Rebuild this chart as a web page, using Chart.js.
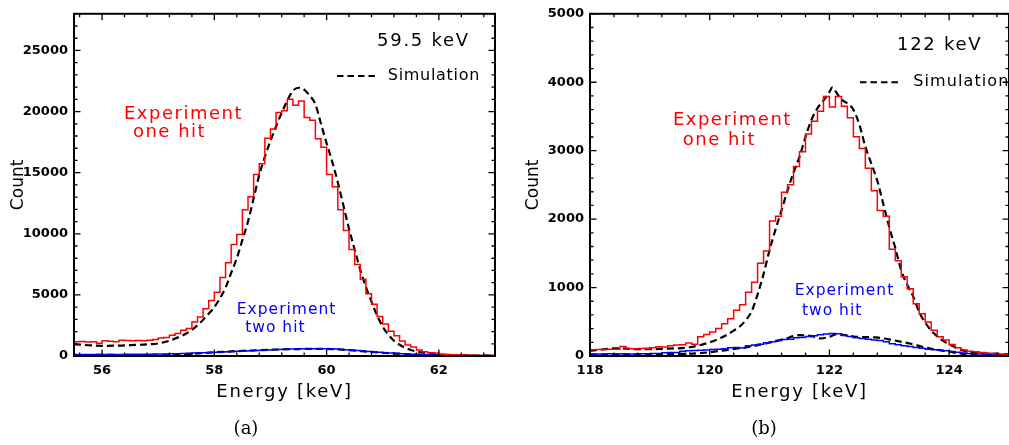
<!DOCTYPE html>
<html><head><meta charset="utf-8">
<script src="https://cdn.jsdelivr.net/npm/chart.js@4.4.1/dist/chart.umd.min.js"></script>
<style>
html,body{margin:0;padding:0;background:#fff;overflow:hidden;width:1009px;height:445px;position:relative}
.wrap{position:absolute;top:0;height:445px}
#wa{left:0;width:505px}
#wb{left:510px;width:505px}
.cap{position:absolute;top:418px;width:100px;text-align:center;font-family:"DejaVu Serif",serif;font-size:18px;line-height:20px;color:#000}
</style></head><body>
<div class="wrap" id="wa"><canvas id="ca"></canvas></div>
<div class="wrap" id="wb"><canvas id="cb"></canvas></div>
<div class="cap" style="left:196px">(a)</div>
<div class="cap" style="left:714px">(b)</div>
<script>
// ---------- data : panel (a) 59.5 keV ----------
const binWidth = 0.1;
const binStartA = 55.5;
const oneHitA = [1160,1180,1150,1160,1050,1250,1200,1170,1290,1270,
  1250,1260,1240,1280,1350,1480,1520,1700,1840,2100,
  2240,2780,3190,3860,4540,5210,6430,7640,9130,9940,
  11960,13040,14850,15740,17820,18580,19930,20060,21000,20520,
  20870,19520,19300,17770,17090,14850,13850,11960,10260,8720,
  7480,6290,5100,4240,3240,2620,2030,1650,1220,890,
  730,490,350,270,250,150,120,100,80,70,
  60,50,50,40,40];
const twoHitA = [130,132,128,130,133,130,134,131,129,133,
  135,138,142,148,155,162,170,180,192,205,
  220,238,256,275,295,315,335,355,375,395,
  415,435,455,475,495,515,535,555,570,580,
  588,594,596,596,592,585,570,545,515,480,
  440,400,365,330,300,270,240,215,190,170,
  150,130,112,96,82,70,58,48,40,34,
  28,24,20,18,16];
const simEnergyA = [55.5,55.8,56.0,56.3,56.5,56.8,57.0,57.2,57.3,57.5,57.7,57.9,58.0,58.2,58.3,58.4,58.5,58.6,58.7,58.8,58.9,59.0,59.1,59.2,59.3,59.4,59.5,59.6,59.7,59.8,59.9,60.0,60.1,60.2,60.3,60.4,60.5,60.6,60.7,60.8,60.9,61.0,61.1,61.2,61.3,61.4,61.5,61.7,62.0,62.5,63.0];
const simOneHitA = [970,870,835,850,890,950,1030,1250,1430,1840,2510,3460,4000,5600,6800,8000,9500,11000,12900,14800,16300,17600,18800,19900,20900,21700,21950,21800,21300,20600,19000,17400,15900,14200,12300,10400,8700,7050,5650,4450,3320,2400,1750,1250,920,680,490,290,130,50,20];
const simTwoEnergyA = [55.5,56.0,56.5,57.0,57.5,58.0,58.5,59.0,59.5,59.8,60.1,60.4,60.8,61.2,61.6,62.0,62.5,63.0];
const simTwoHitA = [30,30,40,70,150,300,420,510,570,590,570,480,330,200,110,60,25,10];

// ---------- data : panel (b) 122 keV ----------
const binStartB = 118.0;
const oneHitB = [90,95,95,100,100,140,110,105,110,115,
  120,135,130,150,160,165,190,170,280,314,
  352,401,473,546,667,749,932,1077,1357,1536,
  1971,2043,2391,2502,2768,2985,3245,3430,3575,3790,
  3640,3790,3650,3480,3202,3033,2743,2415,2125,2043,
  1560,1391,1159,981,763,618,497,377,280,232,
  169,121,87,70,63,50,40,35,30,25];
const twoHitB = [30,28,30,32,30,33,31,30,32,34,
  35,38,48,50,52,70,78,82,85,88,
  95,100,105,120,125,118,150,160,170,195,
  210,225,240,245,265,270,285,295,310,320,
  328,325,300,285,265,255,245,235,225,210,
  180,165,150,140,125,112,100,92,85,75,
  65,55,45,38,32,28,25,22,20,18];
const simEnergyB = [118.0,118.2,118.4,118.6,118.8,119.0,119.2,119.4,119.6,119.8,120.0,120.2,120.4,120.5,120.6,120.7,120.8,120.9,121.0,121.1,121.2,121.3,121.4,121.5,121.6,121.7,121.8,121.9,122.0,122.05,122.1,122.2,122.3,122.4,122.5,122.6,122.7,122.8,122.9,123.0,123.1,123.2,123.3,123.4,123.5,123.6,123.7,123.8,123.9,124.0,124.2,124.4,124.6,125.0];
const simOneHitB = [77,95,111,108,100,100,105,110,120,150,200,270,370,430,520,650,900,1200,1550,1850,2130,2420,2680,2910,3200,3450,3620,3730,3860,3927,3870,3750,3690,3600,3380,3060,2810,2560,2220,1880,1580,1250,1040,870,640,490,370,290,220,170,90,55,40,25];
const simTwoEnergyB = [118.0,118.5,119.0,119.5,119.8,120.0,120.3,120.67,120.94,121.22,121.5,121.7,121.85,122.0,122.11,122.3,122.44,122.78,123.06,123.33,123.67,124.0,124.28,124.6,125.0];
const simTwoHitB = [20,25,25,30,40,55,90,135,184,242,304,290,256,280,314,300,280,271,232,184,111,63,25,15,10];

// ---------- tick labels ----------
const xTicksA = [56, 58, 60, 62];
const yTicksA = [0, 5000, 10000, 15000, 20000, 25000];
const xTicksB = [118, 120, 122, 124];
const yTicksB = [0, 1000, 2000, 3000, 4000, 5000];
const xMajorStep = 2, xMinorStep = 0.4;
const yMajorStepA = 5000, yMinorStepA = 1000;
const yMajorStepB = 1000, yMinorStepB = 200;

// ---------- annotation texts (anchored in data units) ----------
const notesA = [
  {text:'59.5 keV', x:60.90, y:25350, color:'#000', size:18, ls:1.7},
  {text:'Simulation', x:61.09, y:22920, color:'#000', size:16, ls:0.7, base:'middle'},
  {text:'Experiment', x:56.39, y:19360, color:'#ff0000', size:18, ls:1.5},
  {text:'one hit', x:56.55, y:17900, color:'#ff0000', size:18, ls:1.5},
  {text:'Experiment', x:58.40, y:3440, color:'#0000ff', size:15.5, ls:1},
  {text:'two hit', x:58.55, y:1985, color:'#0000ff', size:15.5, ls:1}
];
const legendDashA = {x1:60.185, x2:60.915, y:22920};
const notesB = [
  {text:'122 keV', x:123.13, y:4477, color:'#000', size:18, ls:1.7},
  {text:'Simulation', x:123.40, y:4000, color:'#000', size:16, ls:1.1, base:'middle'},
  {text:'Experiment', x:119.385, y:3376, color:'#ff0000', size:18, ls:1.5},
  {text:'one hit', x:119.55, y:3086, color:'#ff0000', size:18, ls:1.5},
  {text:'Experiment', x:121.42, y:884, color:'#0000ff', size:15.5, ls:1},
  {text:'two hit', x:121.54, y:594, color:'#0000ff', size:15.5, ls:1}
];
const legendDashB = {x1:122.51, x2:123.145, y:4000};

function histPoints(start, values){
  const pts = values.map((v,i)=>({x:+(start+i*binWidth).toFixed(3), y:v}));
  pts.push({x:+(start+values.length*binWidth).toFixed(3), y:values[values.length-1]});
  return pts;
}
function curvePoints(es, vs){ return es.map((e,i)=>({x:e,y:vs[i]})); }

const boxPlugin = {
  id:'box',
  afterDatasetsDraw(chart, args, o){
    const {ctx, chartArea:a, scales:{x,y}} = chart;
    ctx.save();
    ctx.strokeStyle = '#000';
    ctx.lineWidth = 1.3;
    const MAJ = 6.5, MIN = 3.5;
    const eps = 1e-6;
    function each(min,max,step,fn){
      for(let k=Math.ceil(min/step-eps); k*step<=max+eps; k++) fn(k*step);
    }
    function isMajor(v,step){ const r=v/step; return Math.abs(r-Math.round(r))<1e-6; }
    ctx.beginPath();
    each(x.min,x.max,o.xMinor,v=>{
      const px=x.getPixelForValue(v); const L=isMajor(v,o.xMajor)?MAJ:MIN;
      ctx.moveTo(px,a.bottom); ctx.lineTo(px,a.bottom-L);
      ctx.moveTo(px,a.top); ctx.lineTo(px,a.top+L);
    });
    each(y.min,y.max,o.yMinor,v=>{
      const py=y.getPixelForValue(v); const L=isMajor(v,o.yMajor)?MAJ:MIN;
      ctx.moveTo(a.left,py); ctx.lineTo(a.left+L,py);
      ctx.moveTo(a.right,py); ctx.lineTo(a.right-L,py);
    });
    ctx.stroke();
    ctx.lineWidth = 2;
    ctx.strokeRect(a.left,a.top,a.right-a.left,a.bottom-a.top);
    (o.notes||[]).forEach(n=>{
      ctx.font = n.size+'px "DejaVu Sans"';
      ctx.fillStyle = n.color;
      ctx.letterSpacing = n.ls+'px';
      ctx.textAlign = 'left';
      ctx.textBaseline = n.base||'alphabetic';
      ctx.fillText(n.text, x.getPixelForValue(n.x), y.getPixelForValue(n.y));
    });
    ctx.letterSpacing = '0px';
    if(o.dash){
      ctx.setLineDash([6.5,4]);
      ctx.lineWidth = 2;
      ctx.beginPath();
      const py = y.getPixelForValue(o.dash.y);
      ctx.moveTo(x.getPixelForValue(o.dash.x1), py);
      ctx.lineTo(x.getPixelForValue(o.dash.x2), py);
      ctx.stroke();
    }
    ctx.restore();
  }
};
const titleSpacing = {
  id:'titleSpacing',
  beforeDraw(chart){
    const s = chart.scales.x;
    if(s && !s.__ls){
      const orig = s.drawTitle;
      s.drawTitle = function(){ const c=this.ctx; c.save(); c.letterSpacing='1.7px'; orig.apply(this, arguments); c.restore(); };
      s.__ls = true;
    }
  }
};

function makeChart(id, c){
  const tickFont = {family:'DejaVu Sans', size:13, weight:'bold'};
  return new Chart(document.getElementById(id), {
    type:'line',
    data:{datasets:[
      {data:histPoints(c.start, c.one), borderColor:'#ff0000', borderWidth:1.5, stepped:true, pointRadius:0, fill:false},
      {data:histPoints(c.start, c.two), borderColor:'#0000ff', borderWidth:1.5, stepped:true, pointRadius:0, fill:false},
      {data:curvePoints(c.simTwoE, c.simTwo), borderColor:'#000', borderWidth:2.2, borderDash:[7,4], cubicInterpolationMode:'monotone', pointRadius:0, fill:false},
      {data:curvePoints(c.simE, c.simOne), borderColor:'#000', borderWidth:2.2, borderDash:[7,4], cubicInterpolationMode:'monotone', pointRadius:0, fill:false}
    ]},
    options:{
      responsive:true, maintainAspectRatio:false, animation:false, devicePixelRatio:1,
      layout:{padding:{left:0, top:11, right:c.padRight, bottom:0}},
      plugins:{legend:{display:false}, tooltip:{enabled:false},
        box:{xMajor:xMajorStep, xMinor:xMinorStep, yMajor:c.yStep, yMinor:c.yMinor, notes:c.notes, dash:c.dash}},
      scales:{
        x:{type:'linear', min:c.xmin, max:c.xmax,
          grid:{display:false, drawTicks:false}, border:{display:false},
          afterBuildTicks(s){ s.ticks = c.xTicks.map(v=>({value:v})); },
          ticks:{padding:7, color:'#000', font:tickFont, maxRotation:0, autoSkip:false, callback:v=>String(v)},
          title:{display:true, text:'Energy [keV]', color:'#000', font:{family:'DejaVu Sans', size:18}, padding:{top:0, bottom:42}},
          afterFit(s){ s.height = 89; }},
        y:{type:'linear', min:0, max:c.ymax,
          grid:{display:false, drawTicks:false}, border:{display:false},
          afterBuildTicks(s){ s.ticks = c.yTicks.map(v=>({value:v})); },
          ticks:{padding:6, color:'#000', font:tickFont, autoSkip:false, callback:v=>String(v)},
          title:{display:true, text:'Count', color:'#000', font:{family:'DejaVu Sans', size:17}, padding:{top:c.titlePad, bottom:0}},
          afterFit(s){ s.width = c.yw; }}
      }
    },
    plugins:[boxPlugin, titleSpacing]
  });
}

makeChart('ca', {start:binStartA, one:oneHitA, two:twoHitA, simE:simEnergyA, simOne:simOneHitA, simTwoE:simTwoEnergyA, simTwo:simTwoHitA,
  xmin:55.5, xmax:63, ymax:28000, xTicks:xTicksA, yTicks:yTicksA, yStep:yMajorStepA, yMinor:yMinorStepA, padRight:10, yw:74, titlePad:8, notes:notesA, dash:legendDashA});
makeChart('cb', {start:binStartB, one:oneHitB, two:twoHitB, simE:simEnergyB, simOne:simOneHitB, simTwoE:simTwoEnergyB, simTwo:simTwoHitB,
  xmin:118, xmax:125, ymax:5000, xTicks:xTicksB, yTicks:yTicksB, yStep:yMajorStepB, yMinor:yMinorStepB, padRight:6, yw:80, titlePad:13, notes:notesB, dash:legendDashB});
</script>
</body></html>
